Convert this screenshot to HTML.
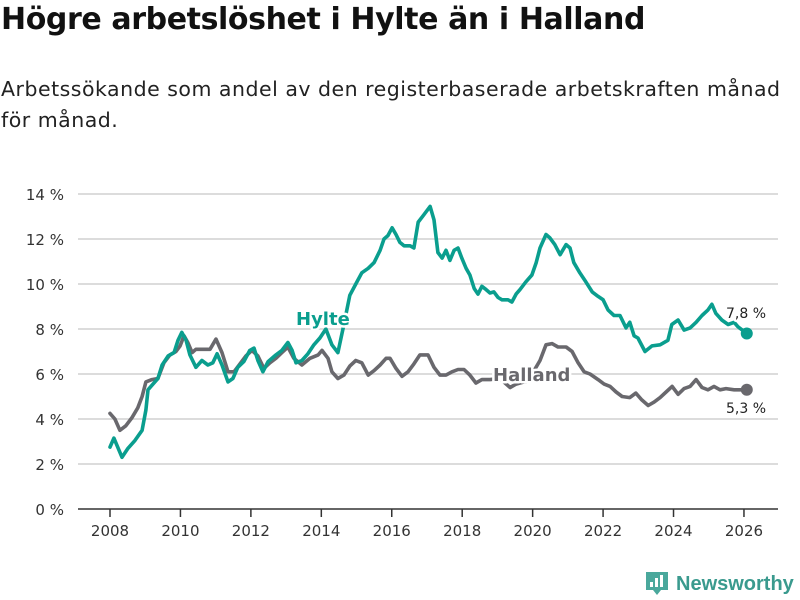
<!DOCTYPE html>
<html><head><meta charset="utf-8"><style>
body{margin:0;width:800px;height:600px;background:#fff;font-family:"DejaVu Sans","Liberation Sans",sans-serif;overflow:hidden}
h1{position:absolute;left:1px;top:2px;margin:0;font-size:30px;font-weight:bold;color:#111;letter-spacing:-0.4px;white-space:nowrap}
p.sub{position:absolute;left:1px;top:74px;margin:0;font-size:20.5px;line-height:31px;color:#222;width:800px;white-space:nowrap;letter-spacing:0.5px}
svg{position:absolute;left:0;top:0;font-family:"DejaVu Sans","Liberation Sans",sans-serif}
</style></head><body>
<h1>Högre arbetslöshet i Hylte än i Halland</h1>
<p class="sub">Arbetssökande som andel av den registerbaserade arbetskraften månad<br>för månad.</p>
<svg id="chart" width="800" height="600"></svg>
<script>
const yTicks=[0,2,4,6,8,10,12,14];
const xTicks=[2008,2010,2012,2014,2016,2018,2020,2022,2024,2026];
const hylteDates=[2008.00,2008.11,2008.34,2008.51,2008.71,2008.91,2009.02,2009.08,2009.19,2009.36,2009.48,2009.65,2009.82,2009.93,2010.04,2010.16,2010.27,2010.44,2010.61,2010.78,2010.92,2011.04,2011.18,2011.35,2011.49,2011.63,2011.80,2011.97,2012.09,2012.20,2012.34,2012.49,2012.71,2012.88,2013.05,2013.17,2013.28,2013.45,2013.62,2013.79,2013.96,2014.13,2014.30,2014.47,2014.64,2014.81,2014.98,2015.15,2015.33,2015.50,2015.67,2015.78,2015.89,2016.01,2016.12,2016.23,2016.35,2016.52,2016.63,2016.75,2016.92,2017.09,2017.20,2017.31,2017.43,2017.54,2017.65,2017.77,2017.88,2017.99,2018.11,2018.22,2018.34,2018.45,2018.56,2018.68,2018.79,2018.90,2019.02,2019.13,2019.30,2019.41,2019.53,2019.64,2019.81,2019.98,2020.10,2020.21,2020.38,2020.49,2020.63,2020.78,2020.95,2021.06,2021.17,2021.34,2021.51,2021.69,2021.86,2022.00,2022.14,2022.31,2022.48,2022.65,2022.76,2022.88,2022.99,2023.19,2023.39,2023.62,2023.84,2023.95,2024.13,2024.30,2024.47,2024.64,2024.81,2024.98,2025.09,2025.20,2025.37,2025.55,2025.72,2025.83,2026.08];
const hylteValues=[2.75,3.15,2.3,2.7,3.05,3.5,4.4,5.3,5.5,5.8,6.4,6.8,6.95,7.5,7.85,7.5,6.85,6.3,6.6,6.4,6.5,6.9,6.4,5.65,5.8,6.3,6.55,7.05,7.15,6.6,6.1,6.55,6.85,7.05,7.4,7.05,6.5,6.6,6.9,7.3,7.6,8.0,7.3,6.95,8.2,9.5,10.0,10.5,10.7,10.95,11.5,12.0,12.15,12.5,12.2,11.85,11.7,11.7,11.6,12.75,13.1,13.45,12.85,11.4,11.15,11.5,11.05,11.5,11.6,11.15,10.7,10.4,9.8,9.55,9.9,9.75,9.6,9.65,9.4,9.3,9.3,9.2,9.55,9.75,10.1,10.4,10.95,11.6,12.2,12.05,11.75,11.3,11.75,11.6,10.95,10.5,10.1,9.65,9.45,9.3,8.85,8.6,8.6,8.05,8.3,7.7,7.6,7.0,7.25,7.3,7.5,8.2,8.4,7.95,8.05,8.3,8.6,8.85,9.1,8.7,8.4,8.2,8.3,8.1,7.8];
const hallandDates=[2008.00,2008.14,2008.28,2008.45,2008.62,2008.79,2008.91,2009.02,2009.19,2009.36,2009.53,2009.70,2009.87,2009.99,2010.10,2010.21,2010.33,2010.44,2010.61,2010.84,2011.01,2011.18,2011.35,2011.52,2011.69,2011.86,2012.03,2012.20,2012.37,2012.54,2012.71,2012.88,2013.05,2013.22,2013.45,2013.68,2013.91,2014.02,2014.19,2014.30,2014.47,2014.64,2014.81,2014.98,2015.15,2015.33,2015.50,2015.67,2015.84,2015.95,2016.12,2016.29,2016.46,2016.63,2016.80,2017.03,2017.20,2017.37,2017.54,2017.71,2017.88,2018.05,2018.22,2018.39,2018.56,2018.79,2019.07,2019.36,2019.53,2019.87,2020.21,2020.38,2020.55,2020.72,2020.95,2021.12,2021.29,2021.46,2021.63,2021.86,2022.03,2022.20,2022.37,2022.54,2022.76,2022.93,2023.10,2023.28,2023.45,2023.62,2023.79,2023.96,2024.13,2024.30,2024.47,2024.64,2024.81,2024.98,2025.15,2025.32,2025.49,2025.72,2026.08];
const hallandValues=[4.25,4.0,3.5,3.7,4.05,4.5,5.0,5.65,5.75,5.8,6.5,6.85,7.0,7.25,7.7,7.4,6.95,7.1,7.1,7.1,7.55,6.95,6.1,6.1,6.45,6.8,7.05,6.8,6.25,6.5,6.7,6.95,7.2,6.7,6.4,6.7,6.85,7.05,6.7,6.1,5.8,5.95,6.35,6.6,6.5,5.95,6.15,6.4,6.7,6.7,6.25,5.9,6.1,6.45,6.85,6.85,6.3,5.95,5.95,6.1,6.2,6.2,5.95,5.6,5.75,5.75,5.8,5.4,5.55,5.7,6.6,7.3,7.35,7.2,7.2,7.0,6.5,6.1,6.0,5.75,5.55,5.45,5.2,5.0,4.95,5.15,4.85,4.6,4.75,4.95,5.2,5.45,5.1,5.35,5.45,5.75,5.4,5.3,5.45,5.3,5.35,5.3,5.3];

const svg=document.getElementById('chart');
const NS='http://www.w3.org/2000/svg';
const X=t=>110+(t-2008)*35.22;
const Y=v=>509-22.5*v;
function mk(tag,attrs,parent){const e=document.createElementNS(NS,tag);for(const k in attrs)e.setAttribute(k,attrs[k]);(parent||svg).appendChild(e);return e;}

yTicks.forEach(v=>{
  const g=mk('line',{x1:78,x2:778,y1:Y(v),y2:Y(v),stroke:v===0?'#333':'#dcdcdc','stroke-width':v===0?1.5:2});
  
  
  const t=mk('text',{x:64,y:Y(v)+6,'text-anchor':'end','font-size':15,fill:'#333'});
  t.textContent=v+' %';
  
  
});
xTicks.forEach(yr=>{
  const l=mk('line',{x1:X(yr),x2:X(yr),y1:509,y2:517,stroke:'#333','stroke-width':1.5});
  
  
  const t=mk('text',{x:X(yr),y:536,'text-anchor':'middle','font-size':15,fill:'#333'});
  t.textContent=yr;
  
  
});
function line(dates,vals,color,name){
  const d=dates.map((t,i)=>(i?'L':'M')+X(t).toFixed(1)+','+Y(vals[i]).toFixed(1)).join('');
  const p=mk('path',{d:d,fill:'none',stroke:color,'stroke-width':3.6,'stroke-linejoin':'round','stroke-linecap':'round'});
  
  
  const n=dates.length-1;
  const c=mk('circle',{cx:X(dates[n]),cy:Y(vals[n]),r:6,fill:color});
  
  
}
line(hallandDates,hallandValues,'#69686d','halland-line');
line(hylteDates,hylteValues,'#0a9e8e','hylte-line');
function lbl(x,y,txt,color,name,size,bold,anchor){
  const t=mk('text',{x:x,y:y,'font-size':size,'font-weight':bold?'bold':'normal',fill:color,stroke:'#fff','stroke-width':5,'paint-order':'stroke','stroke-linejoin':'round','text-anchor':anchor||'start'});
  t.textContent=txt;
  
  
}
lbl(296,325,'Hylte','#0a9e8e','hylte-label',18,true);
lbl(493,381,'Halland','#69686d','halland-label',18,true);
const nh=hylteValues.length-1, nl=hallandValues.length-1;
lbl(746,318,hylteValues[nh].toString().replace('.',',')+' %','#222','hylte-value-label',14,false,'middle');
lbl(746,413,hallandValues[nl].toString().replace('.',',')+' %','#222','halland-value-label',14,false,'middle');
const lg=mk('g',{});


mk('path',{d:'M646,572h22v18h-7l-4,5l-4,-5h-7z',fill:'#4aa89c'},lg);
mk('rect',{x:650,y:582,width:3,height:5,fill:'#fff'},lg);
mk('rect',{x:655,y:578,width:3,height:9,fill:'#fff'},lg);
mk('rect',{x:660,y:575,width:3,height:12,fill:'#fff'},lg);
const lt=mk('text',{x:676,y:590,'font-size':20,'font-weight':'bold',fill:'#3a9a8e','font-family':'Liberation Sans, sans-serif'},lg);
lt.textContent='Newsworthy';
</script>
</body></html>
